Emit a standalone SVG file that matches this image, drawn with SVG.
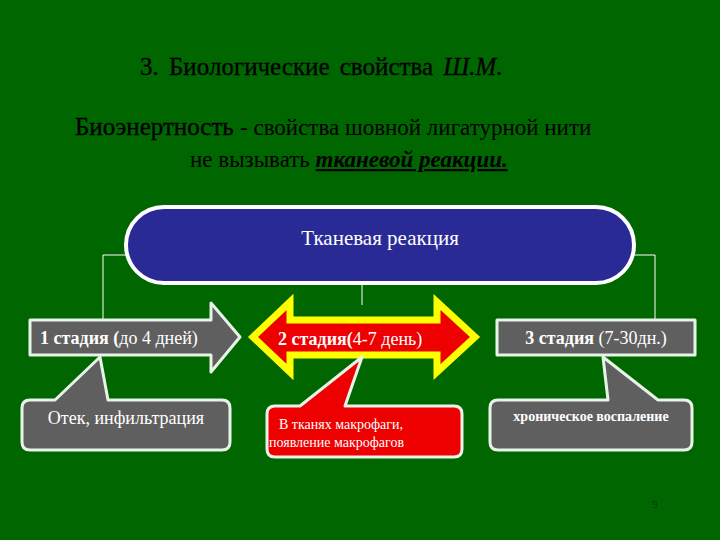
<svg xmlns="http://www.w3.org/2000/svg" width="720" height="540" viewBox="0 0 720 540" font-family="'Liberation Serif', 'DejaVu Serif', serif">
<style>
.t{fill:#000}
.w{fill:#fff}
.g{fill:#5f5f5f;stroke:#e8f4e8;stroke-width:3;stroke-linejoin:round}
.ln{stroke:#fff;stroke-width:1;fill:none}
</style>
<rect width="720" height="540" fill="#006600"/>
<text x="140" y="75" font-size="25" class="t" stroke="#000" stroke-width="0.3" word-spacing="4">3.  Биологические свойства  <tspan font-style="italic">Ш.М.</tspan></text>
<text x="75" y="135" font-size="25" class="t" stroke="#000" stroke-width="0.3">Биоэнертность <tspan font-size="23" stroke-width="0">- свойства шовной лигатурной нити</tspan></text>
<text x="190" y="167" font-size="23" class="t">не вызывать <tspan font-style="italic" font-weight="bold" text-decoration="underline">тканевой реакции.</tspan></text>
<g id="connectors" class="ln">
<polyline points="126,255 103,255 103,320"/>
<polyline points="634,255 655,255 655,320"/>
<line x1="362" y1="283" x2="362" y2="305"/>
</g>
<g id="root">
<rect x="126" y="207" width="508" height="76" rx="38" fill="#2a2a96" stroke="#fff" stroke-width="4"/>
<text x="380" y="245" font-size="21" text-anchor="middle" class="w">Тканевая реакция</text>
</g>
<g id="stage1">
<polygon class="g" points="30,320 211,320 211,303 240,337 211,372 211,355 30,355"/>
<text x="40" y="344" font-size="18" class="w"><tspan font-weight="bold">1 стадия (</tspan>до 4 дней)</text>
</g>
<g id="stage2">
<polygon points="253,337 290,302 290,320 437,320 437,302 475,337 437,372 437,355 290,355 290,372" fill="#ee0000" stroke="#ffff00" stroke-width="7" stroke-linejoin="miter"/>
<text x="278" y="345" font-size="18" class="w"><tspan font-weight="bold">2 стадия(</tspan>4-7 день)</text>
</g>
<g id="stage3">
<rect x="497" y="320" width="198" height="35" class="g" stroke-linejoin="miter"/>
<text x="596" y="344" font-size="18" text-anchor="middle" class="w"><tspan font-weight="bold">3 стадия</tspan> (7-30дн.)</text>
</g>
<g id="note1">
<path class="g" d="M30,400 L55,400 L100,357 L108,400 L222,400 Q230,400 230,408 L230,442 Q230,450 222,450 L30,450 Q22,450 22,442 L22,408 Q22,400 30,400 Z"/>
<text x="126" y="424" font-size="18" text-anchor="middle" class="w">Отек, инфильтрация</text>
</g>
<g id="note2">
<path d="M275,406 L300,406 L362,357 L345,406 L454,406 Q462,406 462,414 L462,449 Q462,457 454,457 L275,457 Q267,457 267,449 L267,414 Q267,406 275,406 Z" fill="#ee0000" stroke="#e8f4e8" stroke-width="3" stroke-linejoin="round"/>
<text x="279" y="429" font-size="14" class="w">В тканях макрофаги,</text>
<text x="269" y="447" font-size="14" class="w">появление макрофагов</text>
</g>
<g id="note3">
<path class="g" d="M498,400 L608,400 L603,357 L658,400 L684,400 Q692,400 692,408 L692,442 Q692,450 684,450 L498,450 Q490,450 490,442 L490,408 Q490,400 498,400 Z"/>
<text x="591" y="421" font-size="14" font-weight="bold" text-anchor="middle" class="w">хроническое воспаление</text>
</g>
<text x="655" y="508" font-size="11" text-anchor="middle" fill="#0a3a0a">9</text>
</svg>
